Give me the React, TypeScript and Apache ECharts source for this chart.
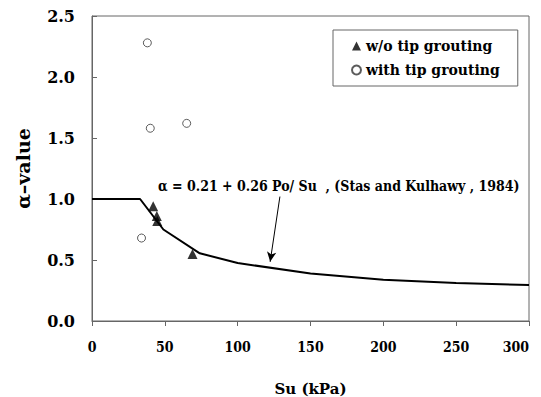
import React, { useEffect, useRef } from "react";
import * as echarts from "echarts";

const xTicks = [0, 50, 100, 150, 200, 250, 300];
const yTicks = [0, 0.5, 1.0, 1.5, 2.0, 2.5];

// Stas and Kulhawy (1984) curve
const curve: [number, number][] = [
  [0, 1.0], [33, 1.0], [49, 0.75], [74, 0.555], [100, 0.475],
  [150, 0.39], [200, 0.338], [250, 0.312], [300, 0.295],
];
// w/o tip grouting
const woTip: [number, number][] = [
  [42, 0.94], [44.5, 0.86], [44.8, 0.82], [69, 0.55],
];
// with tip grouting
const withTip: [number, number][] = [
  [38, 2.28], [40, 1.58], [65, 1.62], [34, 0.68],
];
const arrowFrom: [number, number] = [129, 1.02];
const arrowTo: [number, number] = [122.3, 0.485];
const annotation = "α = 0.21 + 0.26 Po/ Su  , (Stas and Kulhawy , 1984)";

const FONT = "DejaVu Serif";
const FONTC = "DejaVu Serif Condensed";

export default function App() {
  const ref = useRef<HTMLDivElement>(null);
  useEffect(() => {
    const chart = echarts.init(ref.current!, null, { renderer: "svg" });
    chart.setOption({
      animation: false,
      backgroundColor: "#fff",
      textStyle: { fontFamily: FONT },
      grid: {
        left: 92, right: 12, top: 16, bottom: 76,
        containLabel: false, outerBoundsMode: "none",
        show: true, borderColor: "#666", borderWidth: 1,
      },
      legend: {
        left: 333, top: 30, orient: "vertical",
        data: [
          { name: "w/o tip grouting", icon: "triangle" },
          { name: "with tip grouting", icon: "circle" },
        ],
        itemWidth: 9, itemHeight: 9, itemGap: 10,
        padding: [9, 18, 9, 18],
        borderColor: "#666", borderWidth: 1,
        textStyle: { fontFamily: FONT, fontWeight: "bold", fontSize: 14, color: "#000" },
      },
      xAxis: {
        type: "value", min: 0, max: 300, interval: 50,
        name: "Su (kPa)", nameLocation: "middle", nameGap: 60,
        nameTextStyle: { fontFamily: FONT, fontWeight: "bold", fontSize: 15, color: "#000" },
        axisLine: { lineStyle: { color: "#666" } },
        axisTick: { show: true, length: 5, lineStyle: { color: "#666" } },
        splitLine: { show: false },
        axisLabel: {
          fontFamily: FONTC, fontWeight: "bold", fontSize: 14, color: "#000", margin: 19,
          formatter: (v: number) => (xTicks.includes(v) ? String(v) : ""),
          alignMaxLabel: "right",
        },
      },
      yAxis: {
        type: "value", min: 0, max: 2.5, interval: 0.5,
        name: "α–value", nameLocation: "middle", nameGap: 60, nameRotate: 90,
        nameTextStyle: { fontFamily: FONT, fontWeight: "bold", fontSize: 19, color: "#000" },
        axisLine: { lineStyle: { color: "#666" } },
        axisTick: { show: true, inside: true, length: 5, lineStyle: { color: "#666" } },
        splitLine: { show: false },
        axisLabel: {
          fontFamily: FONT, fontWeight: "bold", fontSize: 16, color: "#000", margin: 17,
          formatter: (v: number) => (yTicks.includes(v) ? v.toFixed(1) : ""),
        },
      },
      graphic: [
        {
          type: "text", left: 158, top: 179,
          style: {
            text: annotation, fill: "#000",
            fontFamily: FONTC, fontWeight: "bold", fontSize: 14,
          },
        },
      ],
      series: [
        {
          name: "curve", type: "line", data: curve, symbol: "none",
          lineStyle: { color: "#000", width: 2 }, z: 2,
          markLine: {
            silent: true, symbol: ["none", "arrow"], symbolSize: [7, 10],
            label: { show: false },
            lineStyle: { color: "#000", width: 1, type: "solid" },
            data: [[{ coord: arrowFrom }, { coord: arrowTo }]],
          },
        },
        {
          name: "w/o tip grouting", type: "scatter", data: woTip,
          symbol: "triangle", symbolSize: 10,
          itemStyle: { color: "#000" }, z: 3,
        },
        {
          name: "with tip grouting", type: "scatter", data: withTip,
          symbol: "circle", symbolSize: 8,
          itemStyle: { color: "#fff", borderColor: "#333", borderWidth: 1 }, z: 3,
        },
      ],
    });
    return () => chart.dispose();
  }, []);
  return (
    <div
      ref={ref}
      style={{ position: "fixed", left: 0, top: 0, width: 541, height: 397 }}
    />
  );
}
